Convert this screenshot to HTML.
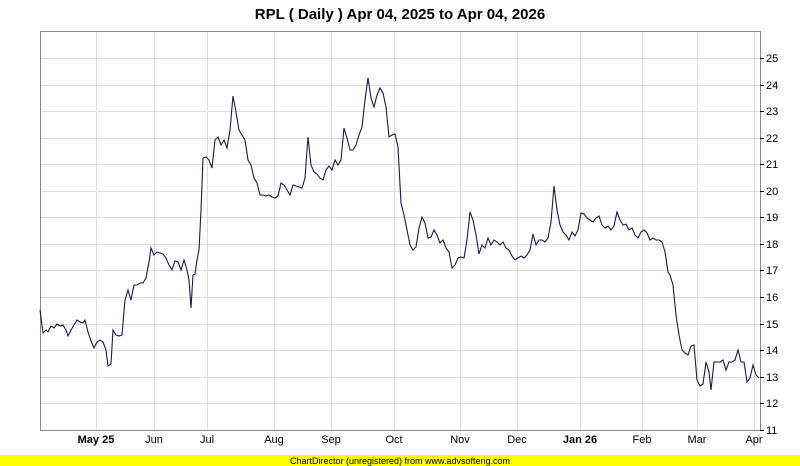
<!DOCTYPE html>
<html><head><meta charset="utf-8"><style>
html,body{margin:0;padding:0;background:#fff;width:800px;height:466px;overflow:hidden}
text{font-family:"Liberation Sans",sans-serif}
</style></head><body>
<svg width="800" height="466" xmlns="http://www.w3.org/2000/svg">
<rect width="800" height="466" fill="#fff"/>
<text x="400" y="19" text-anchor="middle" font-size="15" font-weight="bold" fill="#000">RPL ( Daily ) Apr 04, 2025 to Apr 04, 2026</text>
<g stroke="#dddddd" stroke-width="1">
<line x1="96.5" y1="31" x2="96.5" y2="430"/><line x1="154.5" y1="31" x2="154.5" y2="430"/>
<line x1="207.5" y1="31" x2="207.5" y2="430"/><line x1="274.5" y1="31" x2="274.5" y2="430"/>
<line x1="331.5" y1="31" x2="331.5" y2="430"/><line x1="394.5" y1="31" x2="394.5" y2="430"/>
<line x1="460.5" y1="31" x2="460.5" y2="430"/><line x1="517.5" y1="31" x2="517.5" y2="430"/>
<line x1="580.5" y1="31" x2="580.5" y2="430"/><line x1="642.5" y1="31" x2="642.5" y2="430"/>
<line x1="697.5" y1="31" x2="697.5" y2="430"/><line x1="754.5" y1="31" x2="754.5" y2="430"/>
<line x1="41" y1="58.5" x2="760" y2="58.5"/><line x1="41" y1="85.5" x2="760" y2="85.5"/>
<line x1="41" y1="111.5" x2="760" y2="111.5"/><line x1="41" y1="138.5" x2="760" y2="138.5"/>
<line x1="41" y1="164.5" x2="760" y2="164.5"/><line x1="41" y1="191.5" x2="760" y2="191.5"/>
<line x1="41" y1="217.5" x2="760" y2="217.5"/><line x1="41" y1="244.5" x2="760" y2="244.5"/>
<line x1="41" y1="270.5" x2="760" y2="270.5"/><line x1="41" y1="297.5" x2="760" y2="297.5"/>
<line x1="41" y1="324.5" x2="760" y2="324.5"/><line x1="41" y1="350.5" x2="760" y2="350.5"/>
<line x1="41" y1="377.5" x2="760" y2="377.5"/><line x1="41" y1="403.5" x2="760" y2="403.5"/>
</g>
<rect x="40.5" y="31.5" width="720" height="399" fill="none" stroke="#888" stroke-width="1"/>
<g stroke="#000" stroke-width="1">
<line x1="760" y1="58.5" x2="764" y2="58.5"/><line x1="760" y1="85.5" x2="764" y2="85.5"/><line x1="760" y1="111.5" x2="764" y2="111.5"/><line x1="760" y1="138.5" x2="764" y2="138.5"/><line x1="760" y1="164.5" x2="764" y2="164.5"/><line x1="760" y1="191.5" x2="764" y2="191.5"/><line x1="760" y1="217.5" x2="764" y2="217.5"/><line x1="760" y1="244.5" x2="764" y2="244.5"/><line x1="760" y1="270.5" x2="764" y2="270.5"/><line x1="760" y1="297.5" x2="764" y2="297.5"/><line x1="760" y1="324.5" x2="764" y2="324.5"/><line x1="760" y1="350.5" x2="764" y2="350.5"/><line x1="760" y1="377.5" x2="764" y2="377.5"/><line x1="760" y1="403.5" x2="764" y2="403.5"/><line x1="760" y1="430.5" x2="764" y2="430.5"/>
</g>
<g font-size="11" fill="#000">
<text x="766" y="62">25</text><text x="766" y="89">24</text><text x="766" y="115">23</text><text x="766" y="142">22</text><text x="766" y="168">21</text><text x="766" y="195">20</text><text x="766" y="221">19</text><text x="766" y="248">18</text><text x="766" y="274">17</text><text x="766" y="301">16</text><text x="766" y="328">15</text><text x="766" y="354">14</text><text x="766" y="381">13</text><text x="766" y="407">12</text><text x="766" y="434">11</text>
</g>
<g font-size="11" fill="#000" text-anchor="middle">
<text x="96" y="443" font-weight="bold">May 25</text><text x="154" y="443">Jun</text><text x="207" y="443">Jul</text><text x="274" y="443">Aug</text><text x="331" y="443">Sep</text><text x="394" y="443">Oct</text><text x="460" y="443">Nov</text><text x="517" y="443">Dec</text><text x="580" y="443" font-weight="bold">Jan 26</text><text x="642" y="443">Feb</text><text x="697" y="443">Mar</text><text x="754" y="443">Apr</text>
</g>
<polyline fill="none" stroke="#1a1a50" stroke-width="1.1" points="40,310 43,333 46,330 48,332 51,326 54,328 57,324 60,326 63,325 66,330 68,336 71,330 74,325 77,320 80,322 83,323 85,320 88,332 91,341 94,348 97,342 100,340 103,342 106,350 108,366 111,364 113,330 116,335 119,336 122,335 125,300 128,290 131,300 134,285 137,285 140,283 143,283 146,278 149,262 151,248 154,255 157,252 160,253 163,254 166,258 169,265 172,270 175,261 178,262 181,270 184,260 187,270 189,280 191,308 193,275 195,274 197,260 199,250 201,210 203,158 206,157 209,160 212,168 215,140 218,137 221,145 224,140 227,148 230,130 233,96 236,112 239,130 242,135 245,140 248,160 251,165 254,178 257,183 260,195 263,195 266,196 269,195 272,197 275,198 278,196 281,183 284,185 287,190 290,195 293,185 296,186 299,187 302,188 305,178 308,137 311,165 314,172 317,174 320,178 323,180 326,170 329,166 332,170 335,160 338,165 341,160 344,128 347,138 350,150 353,150 356,145 359,135 362,127 365,100 368,78 371,98 374,107 377,95 380,88 383,93 386,107 389,137 392,135 395,134 398,147 401,203 404,215 407,230 410,245 413,250 416,247 419,228 422,217 425,223 428,238 431,237 434,230 437,235 440,243 443,240 446,248 449,252 452,268 455,265 458,258 461,257 464,258 467,240 470,212 473,220 476,235 479,254 482,245 485,248 488,238 491,245 494,240 497,242 500,245 503,242 506,248 509,250 512,256 515,260 518,258 521,256 524,258 527,255 530,250 533,234 536,245 539,240 542,240 545,242 548,238 551,222 554,186 557,210 560,225 563,232 566,235 569,240 572,232 575,236 578,230 581,213 584,214 587,218 590,220 593,222 596,218 599,216 602,225 605,228 608,226 611,230 614,226 617,212 620,220 623,225 626,224 629,230 632,228 635,235 638,238 641,232 644,230 647,233 650,240 653,238 656,240 659,240 662,242 665,252 668,272 670,275 673,285 676,315 679,335 682,350 685,353 688,355 691,346 694,345 697,380 700,386 703,384 706,362 709,372 711,390 714,362 717,362 720,362 723,360 726,370 729,362 732,362 735,360 738,350 741,362 744,362 747,382 750,378 753,365 756,375 759,378"/>
<rect x="0" y="455" width="800" height="11" fill="#ffff00"/>
<text x="400" y="464" text-anchor="middle" font-size="9" fill="#000">ChartDirector (unregistered) from www.advsofteng.com</text>
</svg>
</body></html>
